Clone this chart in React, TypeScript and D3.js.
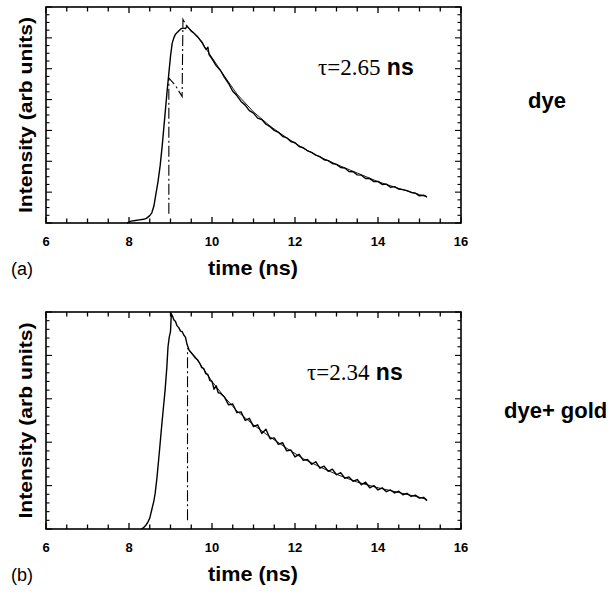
import React from "react";
import * as d3 from "d3";

// ---------- Data ----------
// Panel (a): dye
const timeA = [
  7.95, 8.0, 8.05, 8.15, 8.25, 8.35, 8.42, 8.5, 8.55, 8.6, 8.65, 8.7, 8.75, 8.8, 8.84, 8.88, 8.92, 8.96, 9.0, 9.04,
  9.08, 9.12, 9.18, 9.24, 9.3, 9.36, 9.4, 9.45, 9.5, 9.55, 9.6, 9.65, 9.7, 9.76, 9.82, 9.86, 9.9, 9.93, 10.0, 10.1,
  10.2, 10.3, 10.4, 10.5, 10.6, 10.7, 10.8, 10.9, 11.0, 11.1, 11.2, 11.3, 11.4, 11.5, 11.6, 11.7, 11.8, 11.9, 12.0, 12.1,
  12.2, 12.3, 12.4, 12.5, 12.6, 12.7, 12.8, 12.9, 13.0, 13.1, 13.2, 13.3, 13.4, 13.5, 13.6, 13.7, 13.8, 13.9, 14.0, 14.1,
  14.2, 14.3, 14.4, 14.5, 14.6, 14.7, 14.8, 14.9, 15.0, 15.1, 15.18,
];
const intensityA = [
  0.0, 0.03, 0.06, 0.08, 0.1, 0.12, 0.15, 0.24, 0.33, 0.55, 0.95, 1.35, 1.85, 2.5, 3.1, 3.7, 4.3, 4.85, 5.4, 5.82,
  6.0, 6.12, 6.2, 6.28, 6.32, 6.3, 6.38, 6.3, 6.22, 6.17, 6.1, 6.04, 5.96, 5.86, 5.7, 5.62, 5.7, 5.46, 5.32, 5.1,
  4.95, 4.72, 4.52, 4.27, 4.13, 3.94, 3.82, 3.64, 3.56, 3.4, 3.35, 3.2, 3.12, 3.0, 2.94, 2.81, 2.76, 2.64, 2.6, 2.48,
  2.44, 2.34, 2.29, 2.2, 2.15, 2.05, 2.02, 1.93, 1.9, 1.8, 1.78, 1.67, 1.66, 1.56, 1.55, 1.44, 1.44, 1.34, 1.35, 1.25,
  1.26, 1.16, 1.18, 1.1, 1.08, 1.05, 0.99, 0.97, 0.88, 0.9, 0.84,
];
// dash-dot fit rise in (a)
const fitRiseTimeA = [8.96, 8.96, 9.12, 9.28, 9.3, 9.4];
const fitRiseValA = [0.3, 4.7, 4.45, 4.1, 6.6, 6.36];
// fit decay in (a)
const fitTimeA = [9.4, 9.6, 9.8, 10.0, 10.3, 10.6, 11.0, 11.4, 11.8, 12.2, 12.6, 13.0, 13.5, 14.0, 14.5, 15.0, 15.18];
const fitValA = [6.36, 6.12, 5.76, 5.36, 4.76, 4.18, 3.6, 3.14, 2.76, 2.42, 2.14, 1.9, 1.62, 1.34, 1.12, 0.92, 0.86];

// Panel (b): dye + gold
const timeB = [
  8.3, 8.35, 8.4, 8.45, 8.5, 8.55, 8.6, 8.63, 8.67, 8.71, 8.75, 8.79, 8.83, 8.87, 8.91, 8.94, 8.97, 9.0, 9.02, 9.05,
  9.08, 9.12, 9.16, 9.2, 9.24, 9.28, 9.32, 9.36, 9.4, 9.45, 9.5, 9.55, 9.6, 9.65, 9.7, 9.75, 9.8, 9.85, 9.9, 9.95,
  10.0, 10.05, 10.1, 10.15, 10.2, 10.3, 10.4, 10.5, 10.6, 10.7, 10.8, 10.9, 11.0, 11.1, 11.2, 11.3, 11.4, 11.5, 11.6, 11.7,
  11.8, 11.9, 12.0, 12.1, 12.2, 12.3, 12.4, 12.5, 12.6, 12.7, 12.8, 12.9, 13.0, 13.1, 13.2, 13.3, 13.4, 13.5, 13.6, 13.7,
  13.8, 13.9, 14.0, 14.1, 14.2, 14.3, 14.4, 14.5, 14.6, 14.7, 14.8, 14.9, 15.0, 15.1, 15.18,
];
const intensityB = [
  0.0, 0.03, 0.08, 0.15, 0.25, 0.45, 0.65, 0.82, 1.15, 1.55, 1.97, 2.4, 2.8, 3.2, 3.7, 4.2, 4.42, 4.55, 4.96, 4.9,
  4.82, 4.78, 4.68, 4.64, 4.56, 4.55, 4.47, 4.42, 4.25, 4.12, 4.06, 4.0, 3.94, 3.9, 3.83, 3.72, 3.7, 3.58, 3.56, 3.42,
  3.4, 3.22, 3.3, 3.14, 3.13, 3.04, 2.86, 2.88, 2.68, 2.7, 2.5, 2.55, 2.36, 2.4, 2.2, 2.3, 2.08, 2.1, 1.95, 1.99,
  1.8, 1.82, 1.66, 1.72, 1.58, 1.6, 1.49, 1.55, 1.4, 1.45, 1.33, 1.38, 1.25, 1.3, 1.17, 1.2, 1.1, 1.14, 1.02, 1.08,
  0.95, 1.0, 0.9, 0.95, 0.86, 0.9, 0.83, 0.87, 0.79, 0.82, 0.75, 0.78, 0.71, 0.73, 0.65,
];
// dash-dot fit rise in (b)
const fitRiseTimeB = [9.41, 9.41];
const fitRiseValB = [0.2, 4.16];
// fit decay in (b)
const fitTimeB = [9.41, 9.6, 9.8, 10.0, 10.3, 10.6, 11.0, 11.4, 11.8, 12.2, 12.6, 13.0, 13.5, 14.0, 14.5, 15.0, 15.18];
const fitValB = [4.16, 3.96, 3.68, 3.4, 3.04, 2.72, 2.4, 2.12, 1.86, 1.62, 1.43, 1.26, 1.08, 0.95, 0.84, 0.73, 0.68];

const xTickValues = [6, 8, 10, 12, 14, 16];
const xTickLabels = ["6", "8", "10", "12", "14", "16"];

const SANS = "'Liberation Sans', Arial, Helvetica, sans-serif";
const SERIF = "'Liberation Serif', 'Times New Roman', serif";

type PanelProps = {
  top: number;
  bottom: number;
  yMax: number;
  yMinorStep: number;
  time: number[];
  values: number[];
  riseT: number[];
  riseV: number[];
  fitT: number[];
  fitV: number[];
  tau: string;
  tauX: number;
  tauY: number;
  letter: string;
};

function Panel(p: PanelProps) {
  const left = 46;
  const right = 461;
  const x = d3.scaleLinear().domain([6, 16]).range([left, right]);
  const y = d3.scaleLinear().domain([0, p.yMax]).range([p.bottom, p.top]);
  const line = d3
    .line<[number, number]>()
    .x((d) => x(d[0]))
    .y((d) => y(d[1]));
  const data = p.time.map((t, i) => [t, p.values[i]] as [number, number]);
  const rise = p.riseT.map((t, i) => [t, p.riseV[i]] as [number, number]);
  const fit = p.fitT.map((t, i) => [t, p.fitV[i]] as [number, number]);

  const xMinor = d3.range(6, 16.001, 0.5);
  const yTicks = d3.range(0, p.yMax + 1e-6, p.yMinorStep);
  const cy = (p.top + p.bottom) / 2;

  return (
    <g>
      {xMinor.map((t, i) => {
        const major = Math.abs(t - Math.round(t / 2) * 2) < 1e-6;
        const len = major ? 6 : 4.5;
        return (
          <g key={"x" + i}>
            <line x1={x(t)} x2={x(t)} y1={p.bottom} y2={p.bottom - len} stroke="#000" strokeWidth={1.3} />
            <line x1={x(t)} x2={x(t)} y1={p.top} y2={p.top + len} stroke="#000" strokeWidth={1.3} />
          </g>
        );
      })}
      {yTicks.map((v, i) => {
        const major = Math.abs(v - Math.round(v)) < 1e-6;
        const len = major ? 6 : 3.5;
        return (
          <g key={"y" + i}>
            <line x1={left} x2={left + len} y1={y(v)} y2={y(v)} stroke="#000" strokeWidth={1.1} />
            <line x1={right} x2={right - len} y1={y(v)} y2={y(v)} stroke="#000" strokeWidth={1.1} />
          </g>
        );
      })}
      <rect x={left} y={p.top} width={right - left} height={p.bottom - p.top} fill="none" stroke="#000" strokeWidth={1.6} />
      {xTickValues.map((t, i) => (
        <text
          key={"xl" + i}
          x={x(t)}
          y={p.bottom + 23}
          textAnchor="middle"
          fontFamily={SANS}
          fontWeight="bold"
          fontSize={13}
        >
          {xTickLabels[i]}
        </text>
      ))}
      <path d={line(fit) || ""} fill="none" stroke="#000" strokeWidth={0.9} />
      <path d={line(rise) || ""} fill="none" stroke="#000" strokeWidth={1.1} strokeDasharray="11,3,2,3" />
      <path d={line(data) || ""} fill="none" stroke="#000" strokeWidth={1.4} strokeLinejoin="round" />
      <text
        transform={`translate(32,${cy}) rotate(-90)`}
        textAnchor="middle"
        fontFamily={SANS}
        fontWeight="bold"
        fontSize={19}
        textLength={196}
        lengthAdjust="spacingAndGlyphs"
      >
        Intensity (arb units)
      </text>
      <text
        x={253}
        y={p.bottom + 52}
        textAnchor="middle"
        fontFamily={SANS}
        fontWeight="bold"
        fontSize={21}
        textLength={90}
        lengthAdjust="spacingAndGlyphs"
      >
        time (ns)
      </text>
      <text x={11} y={p.bottom + 52} fontFamily={SANS} fontSize={18}>
        {p.letter}
      </text>
      <text x={p.tauX} y={p.tauY} fontSize={23}>
        <tspan fontFamily={SERIF}>{p.tau}</tspan>
        <tspan fontFamily={SANS} fontWeight="bold">
          {" ns"}
        </tspan>
      </text>
    </g>
  );
}

export default function App() {
  return (
    <svg
      width={615}
      height={600}
      viewBox="0 0 615 600"
      style={{ position: "absolute", left: 0, top: 0, background: "#fff" }}
    >
      <rect x={0} y={0} width={615} height={600} fill="#fff" />
      <Panel
        top={7}
        bottom={223}
        yMax={7}
        yMinorStep={0.25}
        time={timeA}
        values={intensityA}
        riseT={fitRiseTimeA}
        riseV={fitRiseValA}
        fitT={fitTimeA}
        fitV={fitValA}
        tau={"τ=2.65"}
        tauX={318}
        tauY={75}
        letter="(a)"
      />
      <Panel
        top={312}
        bottom={529}
        yMax={5}
        yMinorStep={0.2}
        time={timeB}
        values={intensityB}
        riseT={fitRiseTimeB}
        riseV={fitRiseValB}
        fitT={fitTimeB}
        fitV={fitValB}
        tau={"τ=2.34"}
        tauX={307}
        tauY={380}
        letter="(b)"
      />
      <text x={528} y={108} fontFamily={SANS} fontWeight="bold" fontSize={22}>
        dye
      </text>
      <text x={504} y={418} fontFamily={SANS} fontWeight="bold" fontSize={22}>
        dye+ gold
      </text>
    </svg>
  );
}
